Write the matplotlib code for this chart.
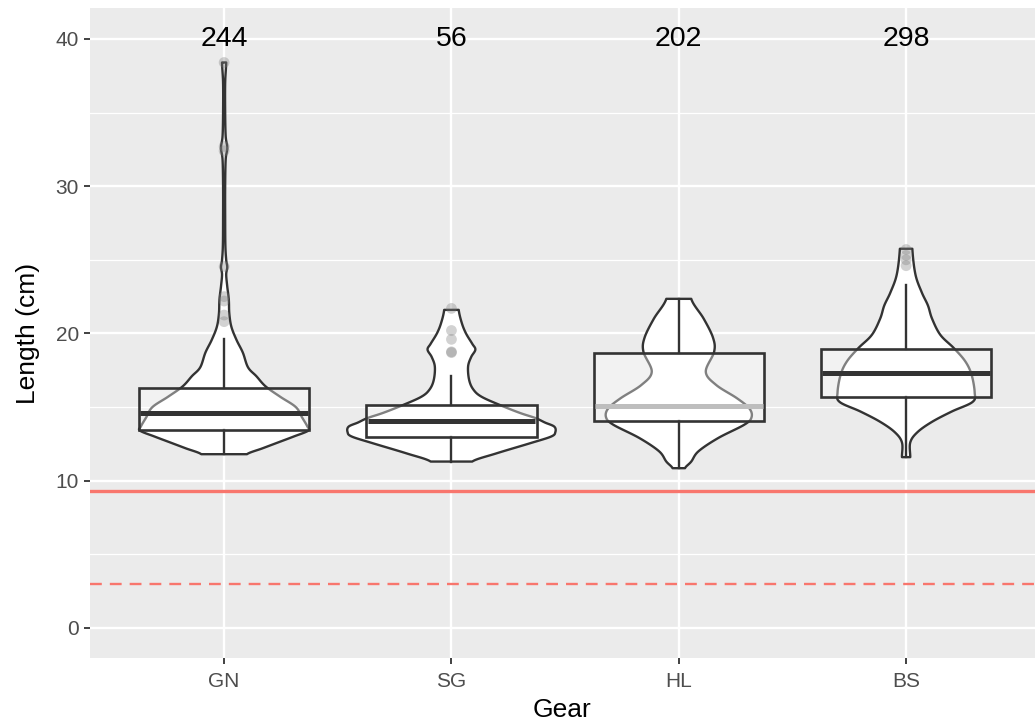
import numpy as np
import matplotlib
matplotlib.use("Agg")
import matplotlib.pyplot as plt

plt.rcParams['font.family'] = ['Liberation Sans', 'DejaVu Sans']

# ---- data -------------------------------------------------------------
gears = ["GN", "SG", "HL", "BS"]
counts = [244, 56, 202, 298]

# violin outlines: length values (cm) and relative density (max = 1)
gn_len = [11.8, 12.2, 12.6, 13.0, 13.4, 13.7, 14.3, 15.0, 15.7, 16.4, 17.1, 17.7,
          18.7, 19.55, 20.45, 21.35, 22.3, 23.2, 24.0, 24.5, 25.0, 26.0, 28.0,
          30.0, 31.8, 32.6, 33.4, 35.0, 37.0, 38.4]
gn_dens = [0.22, 0.37, 0.52, 0.67, 0.81, 0.80, 0.75, 0.69, 0.54, 0.40, 0.31, 0.23,
           0.18, 0.12, 0.07, 0.05, 0.045, 0.03, 0.02, 0.03, 0.02, 0.012, 0.01,
           0.01, 0.015, 0.03, 0.015, 0.01, 0.01, 0.02]
sg_len = [11.3, 11.85, 12.55, 13.0, 13.3, 13.67, 13.95, 14.25, 14.6, 15.1, 15.7,
          16.2, 16.85, 17.75, 18.4, 18.9, 19.3, 20.0, 20.7, 21.6]
sg_dens = [0.20, 0.43, 0.76, 0.96, 1.00, 0.99, 0.90, 0.81, 0.66, 0.48, 0.29,
           0.21, 0.17, 0.16, 0.19, 0.23, 0.20, 0.14, 0.10, 0.07]
hl_len = [10.85, 11.3, 12.0, 12.9, 13.8, 14.3, 14.9, 15.6, 16.5, 17.4, 18.75,
          19.7, 21.0, 22.35]
hl_dens = [0.06, 0.12, 0.19, 0.38, 0.63, 0.70, 0.68, 0.56, 0.36, 0.26, 0.34,
           0.33, 0.24, 0.12]
bs_len = [11.6, 12.6, 13.3, 14.0, 14.7, 15.35, 16.0, 17.2, 18.1, 19.0, 19.9,
          21.0, 21.9, 22.8, 24.0, 25.75]
bs_dens = [0.04, 0.04, 0.11, 0.25, 0.44, 0.64, 0.66, 0.63, 0.57, 0.46, 0.33,
           0.25, 0.21, 0.15, 0.09, 0.06]

# box statistics: lower whisker, Q1, median, Q3, upper whisker
box_lo = [11.8, 11.3, 10.85, 11.6]
box_q1 = [13.45, 13.0, 14.05, 15.7]
box_med = [14.6, 14.05, 15.1, 17.3]
box_q3 = [16.3, 15.15, 18.7, 18.95]
box_hi = [19.6, 17.1, 22.35, 23.3]

# outlying observations
gn_out = [38.4, 32.4, 32.7, 24.55, 22.5, 22.2, 21.25, 20.8]
sg_out = [21.7, 20.2, 19.6, 18.75, 18.7]
hl_out = []
bs_out = [25.7, 25.3, 25.0, 24.6]

limit_solid = 9.3
limit_dashed = 3.0


def smooth_profile(y, w, n=12):
    """Catmull-Rom curve through the (y, w) profile points."""
    y = np.asarray(y, float)
    w = np.asarray(w, float)
    py = np.concatenate([[2 * y[0] - y[1]], y, [2 * y[-1] - y[-2]]])
    pw = np.concatenate([[w[0]], w, [w[-1]]])
    oy, ow = [], []
    for k in range(1, len(py) - 2):
        t = np.linspace(0, 1, n, endpoint=False)
        t2, t3 = t * t, t * t * t
        for arr, out in ((py, oy), (pw, ow)):
            p0, p1, p2, p3 = arr[k - 1], arr[k], arr[k + 1], arr[k + 2]
            out.extend(0.5 * (2 * p1 + (-p0 + p2) * t
                              + (2 * p0 - 5 * p1 + 4 * p2 - p3) * t2
                              + (-p0 + 3 * p1 - 3 * p2 + p3) * t3))
    oy.append(y[-1])
    ow.append(w[-1])
    return np.asarray(oy), np.clip(np.asarray(ow), 0.004, None)


# ---- figure -----------------------------------------------------------
fig = plt.figure(figsize=(10.35, 7.26), dpi=100)
ax = fig.add_axes([90 / 1035, 1 - 658 / 726, 1 - 90 / 1035, (658 - 8) / 726])
ax.set_facecolor("#EBEBEB")
for s in ax.spines.values():
    s.set_visible(False)

ax.set_xlim(0.41, 4.567)
ax.set_ylim(-2.04, 42.1)

# grid
for y in [5, 15, 25, 35]:
    ax.axhline(y, color="white", lw=0.9, zorder=0.5)
for y in [0, 10, 20, 30, 40]:
    ax.axhline(y, color="white", lw=1.7, zorder=0.6)
for x in range(1, 5):
    ax.axvline(x, color="white", lw=1.7, zorder=0.6)

ax.axhline(limit_solid, color="#F8766D", lw=2.4, zorder=1)
ax.axhline(limit_dashed, color="#F8766D", lw=1.7, ls=(0, (5, 3.4)), zorder=1)

violins = [(gn_len, gn_dens), (sg_len, sg_dens), (hl_len, hl_dens), (bs_len, bs_dens)]
outs = [gn_out, sg_out, hl_out, bs_out]
half_max = 0.457
box_half = 0.375
dark = "#333333"

for i, (lens, dens) in enumerate(violins):
    c = i + 1
    sy, sd = smooth_profile(lens, dens)
    hw = sd * half_max
    xs = np.concatenate([c - hw, (c + hw)[::-1]])
    ys = np.concatenate([sy, sy[::-1]])
    ax.fill(xs, ys, facecolor="white", edgecolor=dark, lw=1.7, zorder=2,
            joinstyle="round")

    # whiskers
    ax.plot([c, c], [box_q3[i], box_hi[i]], color=dark, lw=1.7, zorder=3)
    ax.plot([c, c], [box_lo[i], box_q1[i]], color=dark, lw=1.7, zorder=3)
    # box
    rect = plt.Rectangle((c - box_half, box_q1[i]), 2 * box_half,
                         box_q3[i] - box_q1[i], facecolor=(1, 1, 1, 0.38),
                         edgecolor=dark, lw=1.9, zorder=3)
    ax.add_patch(rect)
    med_col = "#BEBEBE" if gears[i] == "HL" else dark
    ax.plot([c - box_half + 0.006, c + box_half - 0.006], [box_med[i]] * 2,
            color=med_col, lw=3.6, zorder=3.5, solid_capstyle="butt")

    if outs[i]:
        ax.scatter([c] * len(outs[i]), outs[i], s=60, color="#7F7F7F",
                   alpha=0.35, edgecolors="none", zorder=4)

    ax.text(c, 40, str(counts[i]), ha="center", va="center", fontsize=20.5,
            color="black", zorder=5)

ax.set_xticks(range(1, 5))
ax.set_xticklabels(gears)
ax.set_yticks([0, 10, 20, 30, 40])
ax.tick_params(axis="both", colors="#333333", length=4, width=1.3,
               labelsize=15, labelcolor="#4D4D4D")
ax.tick_params(axis="x", pad=6)
ax.tick_params(axis="y", pad=4)

ax.set_xlabel("Gear", fontsize=19, color="black", labelpad=5)
ax.set_ylabel("Length (cm)", fontsize=19, color="black", labelpad=11)

fig.savefig("out.png", dpi=100)
